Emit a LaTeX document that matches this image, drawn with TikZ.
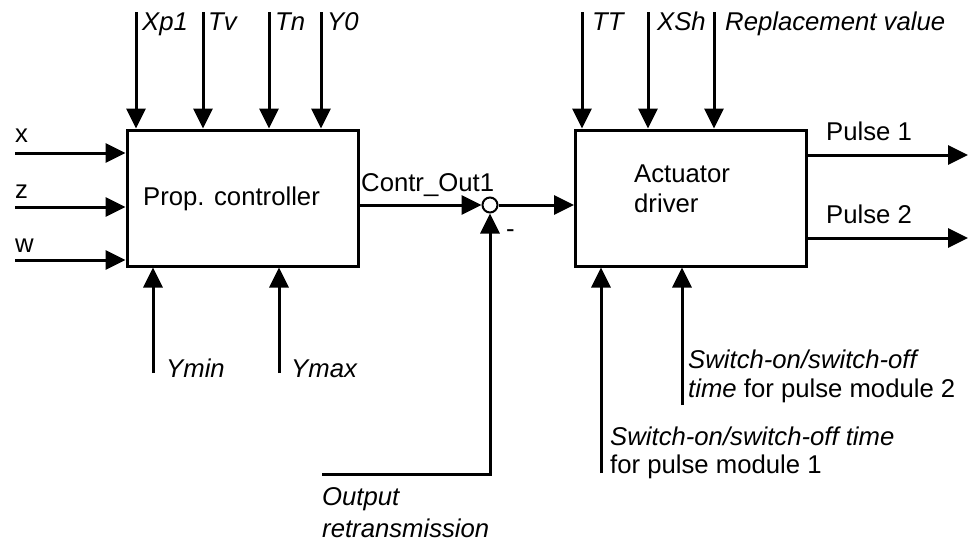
\documentclass[tikz,border=0pt]{standalone}
\usepackage{fontspec}
\setmainfont{Liberation Sans}
\usetikzlibrary{arrows.meta}
\begin{document}
\begin{tikzpicture}[x=1pt,y=-1pt,
  every node/.style={font=\fontsize{25.7}{29}\selectfont, inner sep=0pt},
  blk/.style={draw, line width=3pt, minimum width=231pt, minimum height=136pt},
  arr/.style={line width=3pt, -{Triangle[length=20pt,width=19pt]}},
  lbl/.style={anchor=base west},
  ilbl/.style={anchor=base west, font=\fontsize{25.7}{29}\selectfont\itshape}]
\useasboundingbox (0,0) rectangle (968,541);

% blocks
\node[blk] (prop) at (242.5,198) {};
\node[blk] (act) at (691,198) {};
\node[draw, circle, line width=2pt, minimum size=15pt] (sum) at (490,205) {};

% block texts
\node[lbl] (proptxt) at (143,205) {Prop. controller};
\node[lbl] (acttxt1) at (634,182) {Actuator};
\node[lbl] (acttxt2) at (634,212) {driver};

% top inputs of controller
\coordinate (xp) at (136,12);
\coordinate (tv) at (203,12);
\coordinate (tn) at (269,12);
\coordinate (yz) at (321,12);
\draw[arr] (xp) -- (xp |- prop.north);
\draw[arr] (tv) -- (tv |- prop.north);
\draw[arr] (tn) -- (tn |- prop.north);
\draw[arr] (yz) -- (yz |- prop.north);
\node[ilbl] (lxp) at (142,30) {Xp1};
\node[ilbl] (ltv) at (208,30) {Tv};
\node[ilbl] (ltn) at (275,30) {Tn};
\node[ilbl] (lyz) at (327,30) {Y0};

% left inputs
\coordinate (xi) at (15,153);
\coordinate (zi) at (15,207);
\coordinate (wi) at (15,260);
\draw[arr] (xi) -- (xi -| prop.west);
\draw[arr] (zi) -- (zi -| prop.west);
\draw[arr] (wi) -- (wi -| prop.west);
\node[lbl] (lx) at (15,142) {x};
\node[lbl] (lz) at (15,198) {z};
\node[lbl] (lw) at (15,252) {w};

% bottom inputs of controller
\coordinate (ymin) at (153,373);
\coordinate (ymax) at (279,373);
\draw[arr] (ymin) -- (ymin |- prop.south);
\draw[arr] (ymax) -- (ymax |- prop.south);
\node[ilbl] (lymin) at (166,377) {Ymin};
\node[ilbl] (lymax) at (291,377) {Ymax};

% controller output to summing point
\draw[arr] (sum -| prop.east) -- (sum.west);
\node[lbl] (lco) at (361,191) {Contr\_Out1};
\draw[arr] (sum.east) -- (sum -| act.west);
\node[lbl] (lminus) at (506,237) {-};

% feedback
\coordinate (fb) at (322,474);
\draw[arr] (fb) -- (fb -| sum.center) -- (sum.south);
\node[ilbl] (lout1) at (322,505) {Output};
\node[ilbl] (lout2) at (322,537) {retransmission};

% top inputs of actuator
\coordinate (tt) at (582,12);
\coordinate (xsh) at (648,12);
\coordinate (rv) at (714,12);
\draw[arr] (tt) -- (tt |- act.north);
\draw[arr] (xsh) -- (xsh |- act.north);
\draw[arr] (rv) -- (rv |- act.north);
\node[ilbl] (ltt) at (592,30) {TT};
\node[ilbl] (lxsh) at (657,30) {XSh};
\node[ilbl] (lrv) at (725,30) {Replacement value};

% outputs
\coordinate (p1) at (968,155);
\coordinate (p2) at (968,238);
\draw[arr] (p1 -| act.east) -- (p1);
\draw[arr] (p2 -| act.east) -- (p2);
\node[lbl] (lp1) at (826,140) {Pulse 1};
\node[lbl] (lp2) at (826,223) {Pulse 2};

% bottom inputs of actuator
\coordinate (sw1) at (601,473);
\coordinate (sw2) at (682,405);
\draw[arr] (sw1) -- (sw1 |- act.south);
\draw[arr] (sw2) -- (sw2 |- act.south);
\node[ilbl] (lsw2a) at (688,368) {Switch-on/switch-off};
\node[lbl] (lsw2b) at (688,397) {\itshape time\upshape{} for pulse module 2};
\node[ilbl] (lsw1a) at (610,445) {Switch-on/switch-off time};
\node[lbl] (lsw1b) at (610,473) {for pulse module 1};
\end{tikzpicture}
\end{document}
